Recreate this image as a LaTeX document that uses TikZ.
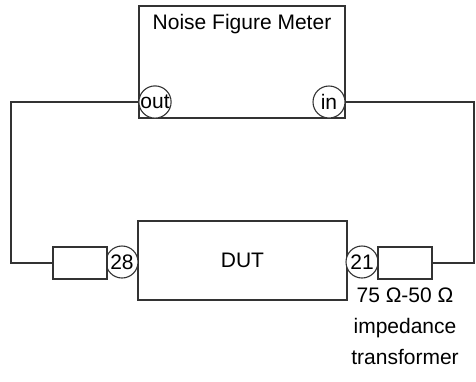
\documentclass[tikz,border=0pt]{standalone}
\usepackage{fontspec}
\setmainfont{Liberation Sans}
\usepackage{tikz}
\usetikzlibrary{positioning}

\begin{document}
\begin{tikzpicture}[
  x=1pt, y=-1pt,
  box/.style={rectangle, draw=black!80, line width=1.2pt, fill=white,
              inner sep=0pt},
  port/.style={circle, draw=black!80, line width=1.1pt, fill=white,
               minimum size=32pt, inner sep=0pt},
  wire/.style={draw=black!80, line width=1.2pt},
  txt/.style={font=\fontsize{21}{31}\selectfont}
]
\useasboundingbox (0,0) rectangle (476,381);

% meter
\node[box, minimum width=206pt, minimum height=112pt] (nfm) at (242,62) {};
\node[txt] (nfmlbl) at (242,24) {Noise Figure Meter};
\node[port, txt] (out) at (155,102) {out};
\node[port, txt] (in)  at (329,102) {in};

% device under test
\node[box, txt, minimum width=209pt, minimum height=79pt] (dut) at (242.5,260.5) {DUT};
\node[port, txt] (p28) at (122,262) {28};
\node[port, txt] (p21) at (362,262) {21};

% transformers
\node[box, minimum width=54pt, minimum height=32pt] (tl) at (80,263) {};
\node[box, minimum width=54pt, minimum height=32pt] (tr) at (405,263) {};
\node[txt, align=center] (trlbl) at (405,326) {75 Ω-50 Ω\\impedance\\transformer};

\coordinate (lbus) at (11,263);
\coordinate (rbus) at (474,263);
\draw[wire] (out.west) -| (lbus) -- (tl.west);
\draw[wire] (in.east) -| (rbus) -- (tr.east);
\end{tikzpicture}
\end{document}
